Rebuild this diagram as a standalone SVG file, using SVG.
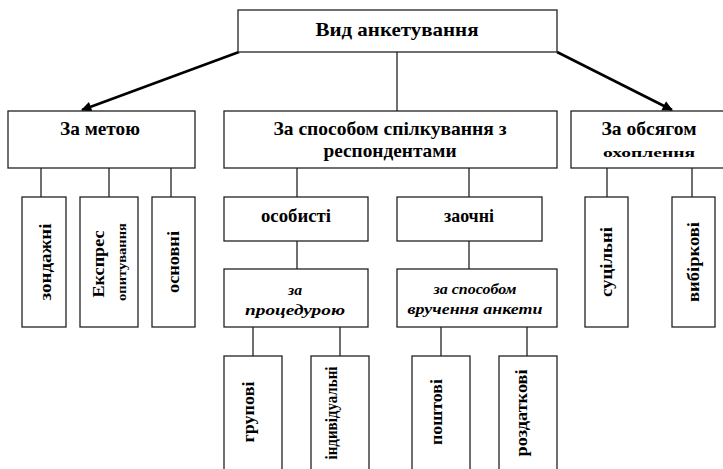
<svg xmlns="http://www.w3.org/2000/svg" width="723" height="469" viewBox="0 0 723 469">
  <defs>
    <marker id="arrow" viewBox="0 0 10 10" refX="9" refY="5" markerWidth="4.2" markerHeight="4" orient="auto" markerUnits="strokeWidth">
      <path d="M0,0 L10,5 L0,10 z" fill="#000"/>
    </marker>
    <style>
      .box { fill: #fff; stroke: #222; stroke-width: 1.3; }
      .link { stroke: #222; stroke-width: 1.3; fill: none; }
      .arrow { stroke: #000; stroke-width: 2.6; fill: none; }
      text { font-family: "Liberation Serif", "Times New Roman", serif; font-weight: bold; fill: #000; text-anchor: middle; }
      .h { font-size: 19px; }
      .s { font-size: 13px; }
      .it { font-style: italic; font-size: 15px; }
      .v { font-size: 17px; }
      .vs { font-size: 12px; }
    </style>
  </defs>

  <!-- connectors -->
  <g id="connectors">
    <line class="arrow" x1="239" y1="52" x2="82" y2="110" marker-end="url(#arrow)"/>
    <line class="arrow" x1="557" y1="52" x2="672" y2="110" marker-end="url(#arrow)"/>
    <line class="link" x1="397" y1="52" x2="397" y2="111"/>
    <line class="link" x1="41" y1="168" x2="41" y2="197"/>
    <line class="link" x1="109" y1="168" x2="109" y2="197"/>
    <line class="link" x1="171" y1="168" x2="171" y2="197"/>
    <line class="link" x1="297" y1="168" x2="297" y2="197"/>
    <line class="link" x1="469" y1="168" x2="469" y2="197"/>
    <line class="link" x1="297" y1="241" x2="297" y2="269"/>
    <line class="link" x1="469" y1="241" x2="469" y2="269"/>
    <line class="link" x1="253" y1="327" x2="253" y2="356"/>
    <line class="link" x1="340" y1="327" x2="340" y2="356"/>
    <line class="link" x1="441" y1="327" x2="441" y2="356"/>
    <line class="link" x1="527" y1="327" x2="527" y2="356"/>
    <line class="link" x1="607" y1="168" x2="607" y2="197"/>
    <line class="link" x1="692" y1="168" x2="692" y2="197"/>
  </g>

  <!-- root -->
  <g id="root">
    <rect class="box" x="238" y="10" width="319" height="42"/>
    <text class="h" x="397" y="36" textLength="163" lengthAdjust="spacingAndGlyphs">Вид анкетування</text>
  </g>

  <!-- first level -->
  <g id="by-purpose">
    <rect class="box" x="8" y="111" width="187" height="57"/>
    <text class="h" x="100" y="135" textLength="80" lengthAdjust="spacingAndGlyphs">За метою</text>
  </g>
  <g id="by-contact">
    <rect class="box" x="224" y="111" width="333" height="57"/>
    <text class="h" x="390" y="135" textLength="233" lengthAdjust="spacingAndGlyphs">За способом спілкування з</text>
    <text class="h" x="390" y="157" textLength="133" lengthAdjust="spacingAndGlyphs">респондентами</text>
  </g>
  <g id="by-coverage">
    <rect class="box" x="571" y="111" width="170" height="57"/>
    <text class="h" x="649" y="135" textLength="95" lengthAdjust="spacingAndGlyphs">За обсягом</text>
    <text class="s" x="649" y="157" textLength="92" lengthAdjust="spacingAndGlyphs">охоплення</text>
  </g>

  <!-- purpose children -->
  <g id="probe">
    <rect class="box" x="22" y="197" width="44" height="130"/>
    <text class="v" transform="translate(46,262) rotate(-90)" dy="0.3em" textLength="77" lengthAdjust="spacingAndGlyphs">зондажні</text>
  </g>
  <g id="express">
    <rect class="box" x="80" y="197" width="58" height="130"/>
    <text class="v" transform="translate(99,264) rotate(-90)" dy="0.3em" font-size="14" textLength="67" lengthAdjust="spacingAndGlyphs">Експрес</text>
    <text class="vs" transform="translate(122,262) rotate(-90)" dy="0.3em" textLength="78" lengthAdjust="spacingAndGlyphs">опитування</text>
  </g>
  <g id="main">
    <rect class="box" x="152" y="197" width="43" height="130"/>
    <text class="v" transform="translate(174,262) rotate(-90)" dy="0.3em" textLength="62" lengthAdjust="spacingAndGlyphs">основні</text>
  </g>

  <!-- contact children -->
  <g id="personal">
    <rect class="box" x="224" y="197" width="144" height="44"/>
    <text class="h" x="296" y="222" font-size="17" textLength="70" lengthAdjust="spacingAndGlyphs">особисті</text>
  </g>
  <g id="remote">
    <rect class="box" x="397" y="197" width="145" height="44"/>
    <text class="h" x="469" y="222" font-size="17" textLength="50" lengthAdjust="spacingAndGlyphs">заочні</text>
  </g>
  <g id="by-procedure">
    <rect class="box" x="224" y="269" width="144" height="58"/>
    <text class="it" x="295" y="295" textLength="14" lengthAdjust="spacingAndGlyphs">за</text>
    <text class="it" x="295" y="315" textLength="100" lengthAdjust="spacingAndGlyphs">процедурою</text>
  </g>
  <g id="by-delivery">
    <rect class="box" x="397" y="269" width="160" height="58"/>
    <text class="it" x="475" y="294" font-size="13" textLength="83" lengthAdjust="spacingAndGlyphs">за способом</text>
    <text class="it" x="475" y="314" font-size="13" textLength="135" lengthAdjust="spacingAndGlyphs">вручення анкети</text>
  </g>

  <!-- procedure / delivery children -->
  <g id="group">
    <rect class="box" x="224" y="356" width="58" height="130"/>
    <text class="v" transform="translate(249,412) rotate(-90)" dy="0.3em" textLength="61" lengthAdjust="spacingAndGlyphs">групові</text>
  </g>
  <g id="individual">
    <rect class="box" x="311" y="356" width="58" height="130"/>
    <text class="v" transform="translate(332,413) rotate(-90)" dy="0.3em" textLength="93" lengthAdjust="spacingAndGlyphs">індивідуальні</text>
  </g>
  <g id="postal">
    <rect class="box" x="412" y="356" width="58" height="130"/>
    <text class="v" transform="translate(437,412) rotate(-90)" dy="0.3em" textLength="66" lengthAdjust="spacingAndGlyphs">поштові</text>
  </g>
  <g id="handout">
    <rect class="box" x="499" y="356" width="58" height="130"/>
    <text class="v" transform="translate(522,413) rotate(-90)" dy="0.3em" textLength="87" lengthAdjust="spacingAndGlyphs">роздаткові</text>
  </g>

  <!-- coverage children -->
  <g id="full">
    <rect class="box" x="585" y="197" width="43" height="130"/>
    <text class="v" transform="translate(607,262) rotate(-90)" dy="0.3em" textLength="70" lengthAdjust="spacingAndGlyphs">суцільні</text>
  </g>
  <g id="sample">
    <rect class="box" x="672" y="197" width="43" height="130"/>
    <text class="v" transform="translate(694,262) rotate(-90)" dy="0.3em" textLength="80" lengthAdjust="spacingAndGlyphs">вибіркові</text>
  </g>
</svg>
